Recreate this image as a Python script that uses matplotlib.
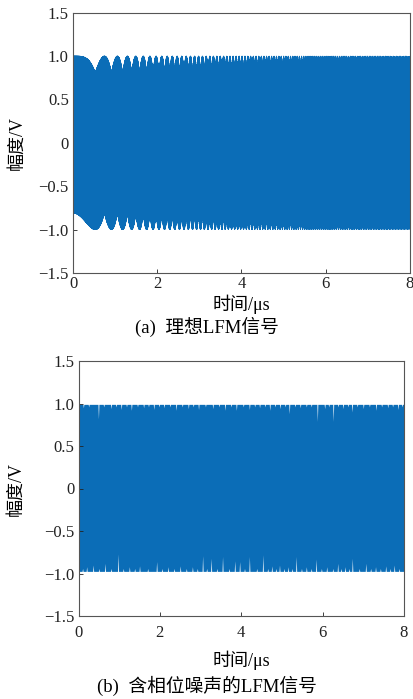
import numpy as np
import matplotlib
matplotlib.use("Agg")
import matplotlib.pyplot as plt

plt.rcParams['font.family'] = ['Liberation Serif', 'Noto Sans CJK SC']
plt.rcParams['axes.unicode_minus'] = True

# --- (a) ideal LFM: signal parameters ---
sample_rate_mhz = 1000.0      # sampling rate
start_freq_mhz = 200.0        # start frequency (fs/5 -> lower edge at -0.81)
chirp_rate_mhz_per_us = 0.72  # frequency slope
duration_us = 8.0

# --- (b) LFM with phase noise: envelope ---
upper_level = 0.99
lower_level = -0.975
upper_dip_t = [0.12, 0.25, 0.49, 0.62, 0.8, 0.92, 1.05, 1.18, 1.3, 1.45, 1.6, 1.72,
               1.85, 1.98, 2.1, 2.25, 2.4, 2.55, 2.7, 2.82, 2.95, 3.12, 3.3, 3.45,
               3.6, 3.75, 3.88, 4.05, 4.2, 4.33, 4.45, 4.58, 4.7, 4.83, 4.95, 5.08,
               5.18, 5.32, 5.45, 5.6, 5.72, 5.87, 6.05, 6.15, 6.26, 6.38, 6.5, 6.62,
               6.72, 6.85, 7.0, 7.15, 7.31, 7.45, 7.6, 7.72, 7.85, 7.95]
upper_dip_v = [0.95, 0.96, 0.82, 0.96, 0.94, 0.96, 0.93, 0.96, 0.92, 0.96, 0.95, 0.96,
               0.93, 0.96, 0.95, 0.96, 0.92, 0.96, 0.94, 0.96, 0.93, 0.96, 0.94, 0.96,
               0.92, 0.96, 0.92, 0.96, 0.93, 0.96, 0.95, 0.96, 0.92, 0.96, 0.94, 0.96,
               0.88, 0.96, 0.95, 0.96, 0.96, 0.79, 0.94, 0.96, 0.79, 0.96, 0.94, 0.96,
               0.90, 0.96, 0.94, 0.96, 0.92, 0.96, 0.95, 0.96, 0.93, 0.96]
lower_spike_t = [0.1, 0.2, 0.36, 0.5, 0.65, 0.8, 0.97, 1.1, 1.25, 1.38, 1.5, 1.7,
                 1.92, 2.05, 2.2, 2.35, 2.5, 2.65, 2.8, 2.92, 3.05, 3.15, 3.26, 3.4,
                 3.54, 3.7, 3.84, 3.96, 4.08, 4.2, 4.38, 4.53, 4.65, 4.75, 4.85, 4.94,
                 5.05, 5.15, 5.25, 5.35, 5.48, 5.6, 5.72, 5.84, 5.97, 6.1, 6.25, 6.37,
                 6.45, 6.55, 6.65, 6.73, 6.9, 7.06, 7.18, 7.3, 7.42, 7.55, 7.66, 7.76,
                 7.88]
lower_spike_v = [-0.94, -0.92, -0.90, -0.94, -0.88, -0.94, -0.77, -0.94, -0.92, -0.94,
                 -0.91, -0.94, -0.86, -0.94, -0.92, -0.94, -0.91, -0.94, -0.92, -0.94,
                 -0.79, -0.94, -0.82, -0.94, -0.80, -0.94, -0.85, -0.86, -0.94, -0.80,
                 -0.94, -0.78, -0.94, -0.91, -0.94, -0.90, -0.94, -0.92, -0.94, -0.80,
                 -0.94, -0.92, -0.94, -0.83, -0.94, -0.92, -0.94, -0.88, -0.94, -0.92,
                 -0.94, -0.82, -0.94, -0.88, -0.94, -0.92, -0.94, -0.91, -0.94, -0.90,
                 -0.94]

yticks = [-1.5, -1.0, -0.5, 0, 0.5, 1.0, 1.5]
ytick_labels = ['\u22121.5', '\u22121.0', '\u22120.5', '0', '0.5', '1.0', '1.5']
xticks = [0, 2, 4, 6, 8]

blue = '#0b6db7'
spine_color = '#555555'


def spiky_edge(t_grid, level, spike_t, spike_v, half_width=0.012):
    # envelope knots: baseline with narrow V-shaped spikes
    kt, kv = [t_grid[0]], [level]
    for t, v in zip(spike_t, spike_v):
        kt += [t - half_width, t, t + half_width]
        kv += [level, v, level]
    kt.append(t_grid[-1])
    kv.append(level)
    return np.interp(t_grid, kt, kv)


def style_axes(ax, xpad, xlabelpad, ylabel_x):
    ax.set_xlim(0, 8)
    ax.set_ylim(-1.5, 1.5)
    ax.set_xticks(xticks)
    ax.set_yticks(yticks)
    ax.set_yticklabels(ytick_labels)
    ax.tick_params(direction='in', length=3, width=0.6, labelsize=12,
                   colors='#222222')
    ax.tick_params(axis='x', pad=xpad)
    ax.tick_params(axis='y', pad=3)
    for s in ax.spines.values():
        s.set_color(spine_color)
        s.set_linewidth(0.8)
    ax.set_xlabel('时间/μs', fontsize=13, labelpad=xlabelpad)
    ax.set_ylabel('幅度/V', fontsize=13)
    ax.yaxis.set_label_coords(ylabel_x, 0.5)


fig = plt.figure(figsize=(4.13, 6.99), dpi=100)

# panel (a)
ax1 = fig.add_axes([73 / 413, 1 - 273 / 699, 337 / 413, 260.3 / 699])
t_a = np.arange(0, duration_us, 1 / sample_rate_mhz)
sig_a = np.cos(2 * np.pi * start_freq_mhz * t_a + np.pi * chirp_rate_mhz_per_us * t_a ** 2)
ax1.plot(t_a, sig_a, color=blue, lw=0.6)
style_axes(ax1, xpad=2, xlabelpad=2, ylabel_x=-0.14)
fig.text(0.5, 1 - 327 / 699, '(a)  理想LFM信号', ha='center', va='center', fontsize=13.5)

# panel (b)
ax2 = fig.add_axes([78.5 / 413, 1 - 616 / 699, 325.5 / 413, 255 / 699])
t_b = np.linspace(0, duration_us, 4001)
up = spiky_edge(t_b, upper_level, upper_dip_t, upper_dip_v)
lo = spiky_edge(t_b, lower_level, lower_spike_t, lower_spike_v)
ax2.fill_between(t_b, lo, up, color=blue, lw=0)
style_axes(ax2, xpad=6.5, xlabelpad=7, ylabel_x=-0.165)
fig.text(0.5, 1 - 686 / 699, '(b)  含相位噪声的LFM信号', ha='center', va='center', fontsize=13.5)

fig.savefig('out.png', dpi=100)
